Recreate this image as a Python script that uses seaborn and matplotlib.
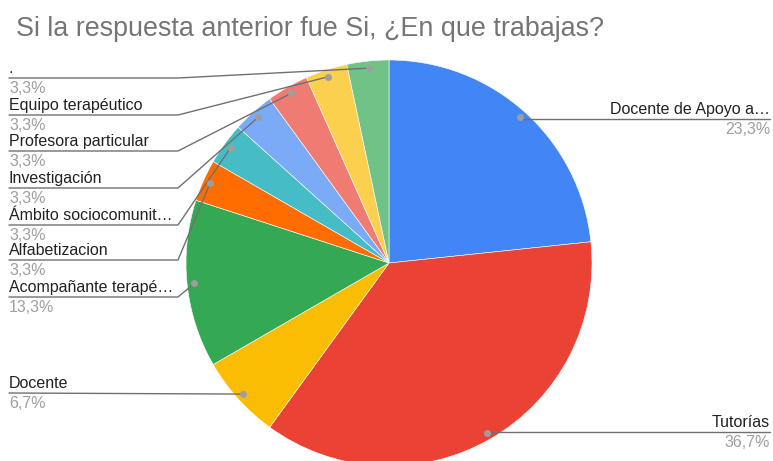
import numpy as np
import matplotlib
matplotlib.use("Agg")
import matplotlib.pyplot as plt
import seaborn as sns

# --- data (clockwise from 12 o'clock) ---
categories = ["Docente de Apoyo a\u2026", "Tutorías", "Docente", "Acompañante terapé\u2026",
              "Alfabetizacion", "Ámbito sociocomunit\u2026", "Investigación",
              "Profesora particular", "Equipo terapéutico", "."]
counts = [7, 11, 2, 4, 1, 1, 1, 1, 1, 1]
colors = ["#4285F4", "#EA4335", "#FBBC04", "#34A853", "#FF6D01",
          "#46BDC6", "#7BAAF7", "#F07B72", "#FCD04F", "#71C287"]

# label layout (pixel y of the leader line, side)
label_line_y = [119, 432, 393, 297, 260, 225, 188, 151, 115, 78]
label_side = ["right", "right", "left", "left", "left", "left", "left", "left", "left", "left"]

W, H = 773, 461
sns.set_theme(style="white")
plt.rcParams['font.family'] = ['Liberation Sans', 'DejaVu Sans']

fig = plt.figure(figsize=(W / 100, H / 100), dpi=100)
ax = fig.add_axes([0, 0, 1, 1])

cx, cy, r = 389, H - 263, 203
wedges, _ = ax.pie(counts, colors=sns.color_palette(colors), startangle=90, counterclock=False,
                   center=(cx, cy), radius=r,
                   wedgeprops=dict(linewidth=0.4, edgecolor="white"))
ax.set_xlim(0, W)
ax.set_ylim(0, H)
ax.set_aspect("equal")
ax.axis("off")

total = sum(counts)
line_c = "#707070"
for w, name, n, ly, side in zip(wedges, categories, counts, label_line_y, label_side):
    mid = np.deg2rad((w.theta1 + w.theta2) / 2)
    dx, dy = cx + 0.965 * r * np.cos(mid), cy + 0.965 * r * np.sin(mid)
    y = H - ly
    pct = f"{100 * n / total:.1f}%".replace(".", ",")
    if side == "right":
        ax.plot([dx, 770], [y, y], color=line_c, lw=1, zorder=3)
        tx, ha = 770, "right"
    else:
        if name == "Docente":
            ax.plot([9, dx], [y, dy], color=line_c, lw=1, zorder=3)
        else:
            ax.plot([9, 178, dx], [y, y, dy], color=line_c, lw=1, zorder=3)
        tx, ha = 9, "left"
    ax.plot(dx, dy, "o", color="#9e9e9e", ms=4, zorder=4)
    ax.text(tx, y + 2, name, ha=ha, va="bottom", fontsize=11.5, color="#222222")
    ax.text(tx, y - 3, pct, ha=ha, va="top", fontsize=11.5, color="#9e9e9e")

ax.text(16, H - 29, "Si la respuesta anterior fue Si, ¿En que trabajas?",
        ha="left", va="center", fontsize=19.4, color="#757575")

fig.savefig("out.png", dpi=100)
